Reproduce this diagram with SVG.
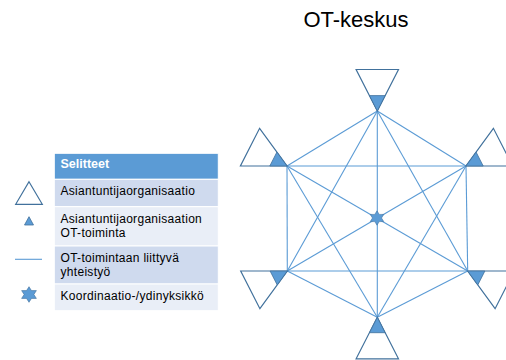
<svg xmlns="http://www.w3.org/2000/svg" width="506" height="360" viewBox="0 0 506 360">
<style>
.t{font-family:"Liberation Sans",Arial,sans-serif;font-size:12px;letter-spacing:0.3px;fill:#000}
.h{font-family:"Liberation Sans",Arial,sans-serif;font-size:12.5px;font-weight:bold;fill:#fff}
.big{fill:#fff;stroke:#41719c;stroke-width:1.2}
.small{fill:#5b9bd5;stroke:#41719c;stroke-width:0.8}
.ln{stroke:#5b9bd5;stroke-width:1.1;fill:none}
.star{fill:#5b9bd5;stroke:#41719c;stroke-width:0.6}
</style>
<defs>
<polygon id="hex" points="0,-7.8 2.45,-3.9 7.36,-3.9 4.9,0 7.36,3.9 2.45,3.9 0,7.8 -2.45,3.9 -7.36,3.9 -4.9,0 -7.36,-3.9 -2.45,-3.9"/>
</defs>
<text x="356" y="26.7" text-anchor="middle" style="font-family:'Liberation Sans',Arial,sans-serif;font-size:22px;fill:#000">OT-keskus</text>

<g id="legend">
<rect x="54.3" y="153.3" width="164" height="26" fill="#5b9bd5" stroke="#fff" stroke-width="1"/>
<rect x="54.3" y="179.3" width="164" height="27.4" fill="#cfdaee" stroke="#fff" stroke-width="1"/>
<rect x="54.3" y="206.7" width="164" height="39.3" fill="#e9eef7" stroke="#fff" stroke-width="1"/>
<rect x="54.3" y="246" width="164" height="38" fill="#cfdaee" stroke="#fff" stroke-width="1"/>
<rect x="54.3" y="284" width="164" height="26.7" fill="#e9eef7" stroke="#fff" stroke-width="1"/>
<text class="h" x="60.5" y="168.3">Selitteet</text>
<text class="t" x="60.5" y="195">Asiantuntijaorganisaatio</text>
<text class="t" x="60.5" y="222.8">Asiantuntijaorganisaation</text>
<text class="t" x="60.5" y="237.1">OT-toiminta</text>
<text class="t" x="60.5" y="261.7">OT-toimintaan liittyvä</text>
<text class="t" x="60.5" y="276">yhteistyö</text>
<text class="t" x="60.5" y="300">Koordinaatio-/ydinyksikkö</text>
<polygon class="big" points="29,181.7 42.3,204.3 15.7,204.3"/>
<polygon class="small" points="29,216.7 33.5,225 24.5,225"/>
<line class="ln" x1="15" y1="259.3" x2="42" y2="259.3"/>
<use href="#hex" class="star" transform="translate(29,294.5)"/>
</g>

<g id="connectors">
<line class="ln" x1="377.3" y1="111" x2="287" y2="166"/>
<line class="ln" x1="377.3" y1="111" x2="466" y2="166"/>
<line class="ln" x1="377.3" y1="111" x2="287.3" y2="271"/>
<line class="ln" x1="377.3" y1="111" x2="467.7" y2="271"/>
<line class="ln" x1="377.3" y1="111" x2="377.3" y2="317.3"/>
<line class="ln" x1="287" y1="166" x2="466" y2="166"/>
<line class="ln" x1="287" y1="166" x2="287.3" y2="271"/>
<line class="ln" x1="287" y1="166" x2="467.7" y2="271"/>
<line class="ln" x1="287" y1="166" x2="377.3" y2="317.3"/>
<line class="ln" x1="466" y1="166" x2="467.7" y2="271"/>
<line class="ln" x1="466" y1="166" x2="287.3" y2="271"/>
<line class="ln" x1="466" y1="166" x2="377.3" y2="317.3"/>
<line class="ln" x1="287.3" y1="271" x2="467.7" y2="271"/>
<line class="ln" x1="287.3" y1="271" x2="377.3" y2="317.3"/>
<line class="ln" x1="467.7" y1="271" x2="377.3" y2="317.3"/>
</g>

<g id="node-top">
<polygon class="big" points="356.1,69.5 398.5,69.5 377.3,111"/>
<polygon class="small" points="369.5,95.6 385.1,95.6 377.3,111"/>
</g>
<g id="node-upper-left">
<polygon class="big" points="287,166 240.4,166 259.6,128.3"/>
<polygon class="small" points="287,166 269.8,166 276.9,152.1"/>
</g>
<g id="node-upper-right">
<polygon class="big" points="466,166 512.6,166 493.4,128.3"/>
<polygon class="small" points="466,166 483.2,166 476.1,152.1"/>
</g>
<g id="node-lower-left">
<polygon class="big" points="287.3,271 240.7,271 259.9,308.7"/>
<polygon class="small" points="287.3,271 270.1,271 277.2,284.9"/>
</g>
<g id="node-lower-right">
<polygon class="big" points="467.7,271 514.3,271 495.1,308.7"/>
<polygon class="small" points="467.7,271 484.9,271 477.8,284.9"/>
</g>
<g id="node-bottom">
<polygon class="big" points="377.3,317.3 398.5,358.8 356.1,358.8"/>
<polygon class="small" points="377.3,317.3 385.1,332.7 369.5,332.7"/>
</g>
<g id="node-center">
<use href="#hex" class="star" transform="translate(377,218) scale(0.92)"/>
</g>
</svg>
